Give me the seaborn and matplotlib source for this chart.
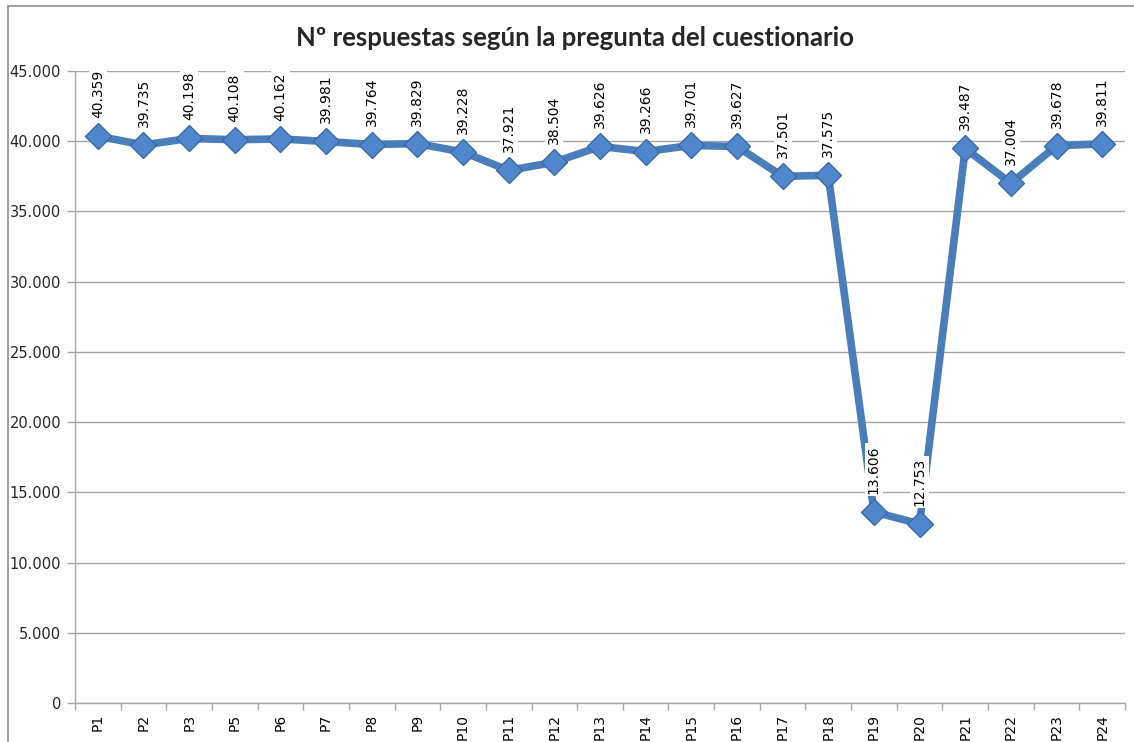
import matplotlib
matplotlib.use("Agg")
import matplotlib.pyplot as plt
from matplotlib.patches import Rectangle
from matplotlib.ticker import FixedLocator, FuncFormatter
import seaborn as sns

# data
preguntas = ['P1', 'P2', 'P3', 'P5', 'P6', 'P7', 'P8', 'P9', 'P10', 'P11', 'P12', 'P13',
             'P14', 'P15', 'P16', 'P17', 'P18', 'P19', 'P20', 'P21', 'P22', 'P23', 'P24']
respuestas = [40359, 39735, 40198, 40108, 40162, 39981, 39764, 39829, 39228, 37921, 38504, 39626,
              39266, 39701, 39627, 37501, 37575, 13606, 12753, 39487, 37004, 39678, 39811]
titulo = 'Nº respuestas según la pregunta del cuestionario'

sns.set_style('white')
plt.rcParams['font.family'] = ['DejaVu Sans']

W, H = 1134, 742
fig = plt.figure(figsize=(W / 100, H / 100), dpi=100)
ax = fig.add_axes([75 / W, 1 - 703 / H, 1050 / W, (703 - 71) / H])

azul = '#4a7ebb'
sns.lineplot(x=preguntas, y=respuestas, sort=False, ax=ax, color=azul, linewidth=5.5,
             marker='D', markersize=13, markerfacecolor='#4f86cc', markeredgecolor='#3a6aa6',
             markeredgewidth=1)

# labels above each point, rotated like Excel data labels
for i, v in enumerate(respuestas):
    ax.annotate('{:,}'.format(v).replace(',', '.'), xy=(i, v), xytext=(0, 13),
                textcoords='offset points', rotation=90, ha='center', va='bottom',
                fontsize=10, color='black',
                bbox=dict(boxstyle='square,pad=0.15', fc='white', ec='none'))

n = len(preguntas)
ax.set_xlim(-0.5, n - 0.5)
ax.set_ylim(0, 45000)
ax.set_yticks(range(0, 45001, 5000))
ax.yaxis.set_major_formatter(FuncFormatter(lambda v, p: '{:,.0f}'.format(v).replace(',', '.')))
ax.yaxis.grid(True, color='#a6a6a6', linewidth=1)
ax.set_axisbelow(True)

ax.set_xticks(range(n))
ax.set_xticklabels(preguntas, rotation=90)
ax.xaxis.set_minor_locator(FixedLocator([k - 0.5 for k in range(n + 1)]))
ax.tick_params(axis='x', which='major', length=0, pad=8, labelsize=10, colors='black')
ax.tick_params(axis='x', which='minor', length=5, color='#a6a6a6', width=1, bottom=True)
ax.tick_params(axis='y', which='major', length=6, color='#a6a6a6', width=1, left=True,
               labelsize=10.5, labelcolor='#262626', pad=4)

for s in ['top', 'right']:
    ax.spines[s].set_visible(False)
for s in ['left', 'bottom']:
    ax.spines[s].set_color('#a6a6a6')
    ax.spines[s].set_linewidth(1)
ax.set_xlabel('')
ax.set_ylabel('')

fig.text(575 / W, 1 - 38 / H, titulo, ha='center', va='center', fontsize=18.5,
         fontweight='bold', family=['Lato', 'DejaVu Sans'])

# outer chart frame (left and top edges visible)
fig.add_artist(Rectangle((8 / W, -0.1), 1.2, 1.1 - 6 / H, transform=fig.transFigure,
                         fill=False, edgecolor='#8c8c8c', linewidth=1.2))

fig.savefig('out.png', dpi=100)
